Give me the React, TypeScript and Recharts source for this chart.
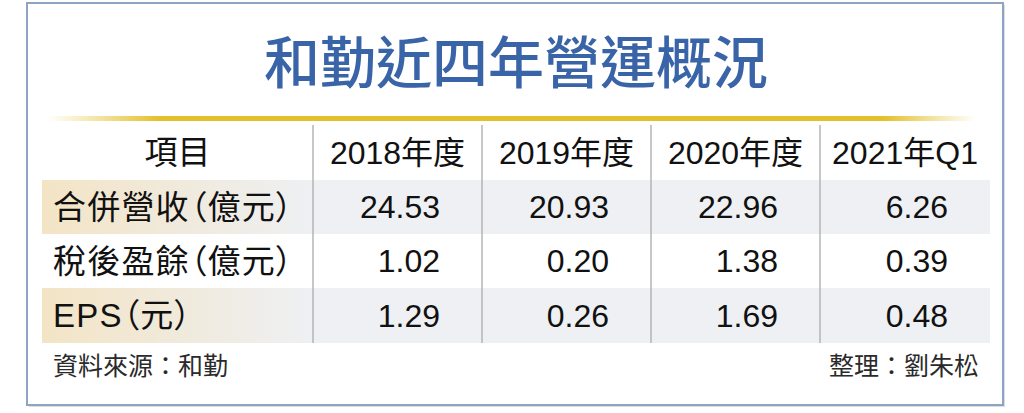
import React from 'react';
import { Surface, Layer, Rectangle, Text } from 'recharts';

const title = '和勤近四年營運概況';
const headerLabel = '項目';
const columns = ['2018年度', '2019年度', '2020年度', '2021年Q1'];
const rowLabels = ['合併營收（億元）', '稅後盈餘（億元）', 'EPS（元）'];
const revenue = [24.53, 20.93, 22.96, 6.26];
const netIncome = [1.02, 0.2, 1.38, 0.39];
const eps = [1.29, 0.26, 1.69, 0.48];
const source = '資料來源：和勤';
const editor = '整理：劉朱松';

const rows = [revenue, netIncome, eps];

const W = 1024;
const H = 413;
const colEdges = [42, 313, 482, 651, 820, 990];
const rowEdges = [125, 180, 234, 288, 343];
const latin = '"Liberation Sans", Arial, "Noto Sans CJK TC", sans-serif';
const cjk = '"Noto Sans CJK TC", "Liberation Sans", sans-serif';

export default function App() {
  return (
    <div style={{ position: 'absolute', left: 0, top: 0, width: W, height: H, background: '#fff' }}>
      <Surface width={W} height={H} viewBox={{ x: 0, y: 0, width: W, height: H }}>
        <defs>
          <linearGradient id="gold" x1="0" x2="1" y1="0" y2="0">
            <stop offset="0" stopColor="#e6c43a" stopOpacity={0} />
            <stop offset="0.12" stopColor="#e4c02a" stopOpacity={1} />
            <stop offset="0.9" stopColor="#e4c02a" stopOpacity={1} />
            <stop offset="1" stopColor="#e6c43a" stopOpacity={0} />
          </linearGradient>
          <linearGradient id="labelBg" x1="0" x2="1" y1="0" y2="0">
            <stop offset="0" stopColor="#f3e4c5" />
            <stop offset="1" stopColor="#eef0f3" />
          </linearGradient>
        </defs>

        {/* frame with a faint shadow */}
        <Rectangle x={29} y={5} width={976} height={402} fill="#d8dde6" />
        <Rectangle x={27} y={3} width={976} height={402} fill="#fff" stroke="#8fa4c2" strokeWidth={2} />

        <Text
          x={516}
          y={63}
          textAnchor="middle"
          verticalAnchor="middle"
          fontFamily={cjk}
          fontWeight={500}
          fontSize={56}
          fill="#3a64a8"
        >
          {title}
        </Text>

        <Rectangle x={48} y={116} width={928} height={5} fill="url(#gold)" />

        {/* shaded rows */}
        {rows.map((_, i) =>
          i % 2 === 0 ? (
            <Layer key={`bg-${i}`}>
              <Rectangle
                x={colEdges[0]}
                y={rowEdges[i + 1]}
                width={colEdges[1] - colEdges[0]}
                height={rowEdges[i + 2] - rowEdges[i + 1]}
                fill="url(#labelBg)"
              />
              <Rectangle
                x={colEdges[1]}
                y={rowEdges[i + 1]}
                width={colEdges[5] - colEdges[1]}
                height={rowEdges[i + 2] - rowEdges[i + 1]}
                fill="#eef0f3"
              />
            </Layer>
          ) : null
        )}

        {/* column separators */}
        {columns.map((c, j) => (
          <line
            key={`sep-${c}`}
            x1={colEdges[j + 1]}
            x2={colEdges[j + 1]}
            y1={rowEdges[0]}
            y2={rowEdges[4]}
            stroke="#b4b4b4"
            strokeWidth={1.5}
          />
        ))}

        {/* header */}
        <Text
          x={(colEdges[0] + colEdges[1]) / 2}
          y={(rowEdges[0] + rowEdges[1]) / 2}
          textAnchor="middle"
          verticalAnchor="middle"
          fontFamily={cjk}
          fontSize={33}
          fill="#111"
        >
          {headerLabel}
        </Text>
        {columns.map((c, j) => (
          <Text
            key={`h-${c}`}
            x={(colEdges[j + 1] + colEdges[j + 2]) / 2}
            y={(rowEdges[0] + rowEdges[1]) / 2}
            textAnchor="middle"
            verticalAnchor="middle"
            fontFamily={latin}
            fontSize={32}
            fill="#111"
          >
            {c}
          </Text>
        ))}

        {/* body */}
        {rows.map((vals, i) => {
          const cy = (rowEdges[i + 1] + rowEdges[i + 2]) / 2;
          return (
            <Layer key={`row-${i}`}>
              <Text
                x={53}
                y={cy}
                verticalAnchor="middle"
                fontFamily={latin}
                fontSize={33}
                fill="#111"
                style={{ fontFeatureSettings: '"palt"', letterSpacing: 1.2 }}
              >
                {rowLabels[i]}
              </Text>
              {vals.map((v, j) => (
                <Text
                  key={`v-${i}-${j}`}
                  x={colEdges[j + 2] - 42}
                  y={cy}
                  textAnchor="end"
                  verticalAnchor="middle"
                  fontFamily={latin}
                  fontSize={32}
                  fill="#111"
                >
                  {v.toFixed(2)}
                </Text>
              ))}
            </Layer>
          );
        })}

        {/* footer */}
        <Text x={53} y={366} verticalAnchor="middle" fontFamily={cjk} fontSize={25} fill="#2a2a2a">
          {source}
        </Text>
        <Text x={979} y={366} textAnchor="end" verticalAnchor="middle" fontFamily={cjk} fontSize={25} fill="#2a2a2a">
          {editor}
        </Text>
      </Surface>
    </div>
  );
}
